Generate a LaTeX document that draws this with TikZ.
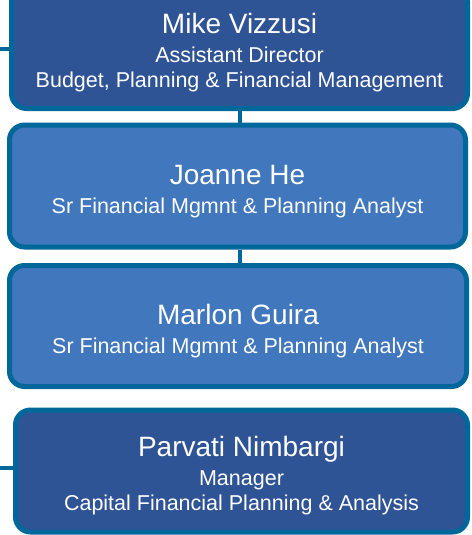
\documentclass[tikz,border=0pt]{standalone}
\usepackage{fontspec}
\setmainfont{Liberation Sans}
\usetikzlibrary{positioning}
\definecolor{boxdark}{RGB}{47,84,150}
\definecolor{boxlight}{RGB}{65,119,188}
\definecolor{boxline}{RGB}{0,103,155}
\newcommand{\who}[1]{\rule{0pt}{30pt}{\fontsize{28}{32}\selectfont #1}\\[4pt]}

\begin{document}
\begin{tikzpicture}[x=1pt,y=-1pt,
    person/.style={draw=boxline,line width=5pt,rounded corners=15pt,text=white,
      align=center,minimum height=122pt,inner sep=0pt,
      font=\fontsize{21.5}{25}\selectfont},
    link/.style={boxline,line width=4.5pt}]
  \clip (0,0) rectangle (471,535);

  \node[person,fill=boxdark,minimum width=456pt] (mike) at (239.5,47.5)
    {\who{Mike Vizzusi} Assistant Director\\ Budget, Planning \& Financial Management};
  \node[person,fill=boxlight,minimum width=456pt] (joanne) at (237.5,186)
    {\who{Joanne He} Sr Financial Mgmnt \& Planning Analyst};
  \node[person,fill=boxlight,minimum width=457pt,minimum height=121pt] (marlon) at (238,326)
    {\who{Marlon Guira} Sr Financial Mgmnt \& Planning Analyst};
  \node[person,fill=boxdark,minimum width=452pt] (parvati) at (241.5,471)
    {\who{Parvati Nimbargi} Manager\\ Capital Financial Planning \& Analysis};

  % connectors
  \coordinate (up) at (0,49);
  \coordinate (side) at (0,468);
  \draw[link] (up) -- (up -| mike.west);
  \draw[link] (side) -- (side -| parvati.west);
  \draw[link] (mike.south) ++(0.5,0) -- (240,0 |- joanne.north);
  \draw[link] (joanne.south) ++(2.5,0) -- (240,0 |- marlon.north);
\end{tikzpicture}
\end{document}
